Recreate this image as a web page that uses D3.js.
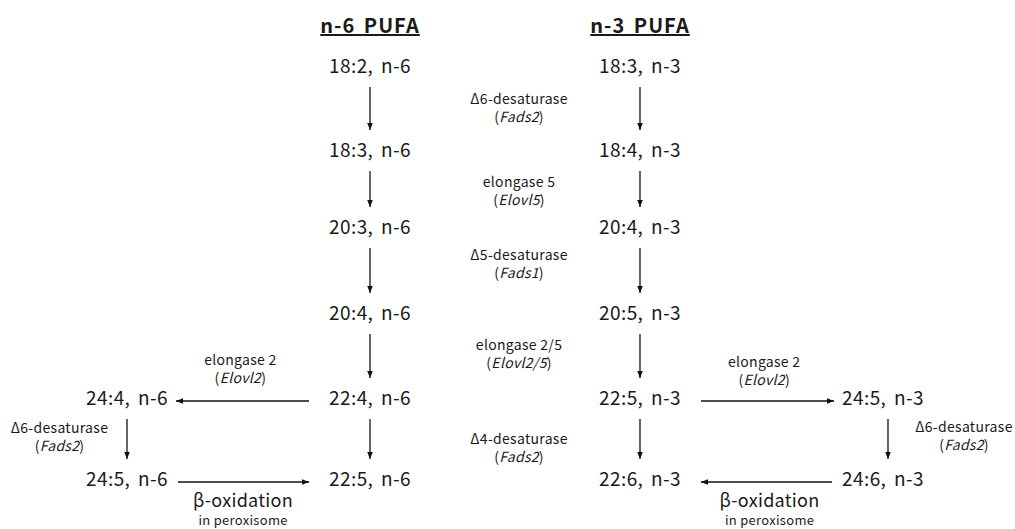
<!DOCTYPE html>
<html>
<head>
<meta charset="utf-8">
<script src="https://cdn.jsdelivr.net/npm/d3@7"></script>
<style>
  body { margin: 0; background: #fff; }
  svg text { font-family: "Noto Sans CJK KR", "Noto Sans", sans-serif; fill: #1a1a1a; }
</style>
</head>
<body>
<svg id="chart" width="1015" height="529"></svg>
<script>
// lanes: 0 = n-6 column, 1 = n-3 column, others relative to them
var titles = [["n-6 PUFA", 0], ["n-3 PUFA", 1]];
var n6Nodes = ["18:2, n-6", "18:3, n-6", "20:3, n-6", "20:4, n-6", "22:4, n-6", "22:5, n-6"];
var n3Nodes = ["18:3, n-3", "18:4, n-3", "20:4, n-3", "20:5, n-3", "22:5, n-3", "22:6, n-3"];
var enzymeNames = ["Δ6-desaturase", "elongase 5", "Δ5-desaturase", "elongase 2/5", "Δ4-desaturase"];
var enzymeGenes = ["Fads2", "Elovl5", "Fads1", "Elovl2/5", "Fads2"];
var enzymeRows = [0.45, 1.48, 2.38, 3.43, 4.57];
var sideNodes = [["24:4, n-6", -0.9, 4], ["24:5, n-6", -0.9, 5], ["24:5, n-3", 1.9, 4], ["24:6, n-3", 1.9, 5]];
// side arrows: from [lane,row] to [lane,row]
var sideArrows = [[[0, 4], [-0.9, 4]], [[-0.9, 4], [-0.9, 5]], [[-0.9, 5], [0, 5]],
                  [[1, 4], [1.9, 4]], [[1.9, 4], [1.9, 5]], [[1.9, 5], [1, 5]]];
// side labels: [name, gene, lane, row]
var sideLabels = [["elongase 2", "Elovl2", -0.48, 3.61], ["Δ6-desaturase", "Fads2", -1.15, 4.43],
                  ["elongase 2", "Elovl2", 1.46, 3.64], ["Δ6-desaturase", "Fads2", 2.2, 4.42]];
var betaLabels = [-0.47, 1.48];

var svg = d3.select("#chart");
var x = d3.scaleLinear().domain([0, 1]).range([370, 640]);
var y = d3.scaleLinear().domain([0, 1, 2, 3, 4, 5]).range([66, 150, 227, 313, 398, 479]);
var enzymeLane = 0.552;

svg.append("defs").append("marker")
  .attr("id", "head").attr("viewBox", "0 0 10 10")
  .attr("refX", 10).attr("refY", 5)
  .attr("markerWidth", 7).attr("markerHeight", 7)
  .attr("markerUnits", "userSpaceOnUse")
  .attr("orient", "auto")
  .append("path").attr("d", "M0,1 L10,5 L0,9 z").attr("fill", "#111");

// titles
svg.selectAll("text.title").data(titles).enter().append("text")
  .attr("class", "title")
  .attr("x", function (d) { return x(d[1]); })
  .attr("y", 33)
  .attr("text-anchor", "middle")
  .style("font-size", "20px").style("font-weight", "bold")
  .style("letter-spacing", "1px").style("word-spacing", "3px")
  .style("text-decoration", "underline")
  .text(function (d) { return d[0]; });

function nodeCol(names, lane) {
  svg.append("g").selectAll("text").data(names).enter().append("text")
    .attr("x", x(lane))
    .attr("y", function (d, i) { return y(i) + 7; })
    .attr("text-anchor", "middle")
    .style("font-size", "19px").style("letter-spacing", "0.4px").style("word-spacing", "3px")
    .text(function (d) { return d; });
  svg.append("g").selectAll("line").data(names.slice(1)).enter().append("line")
    .attr("x1", x(lane)).attr("x2", x(lane))
    .attr("y1", function (d, i) { return y(i) + 21; })
    .attr("y2", function (d, i) { return y(i + 1) - 20; })
    .attr("stroke", "#111").attr("stroke-width", 1.3)
    .attr("marker-end", "url(#head)");
}
nodeCol(n6Nodes, 0);
nodeCol(n3Nodes, 1);

function enzymeLabel(g, name, gene, lx, ly) {
  g.append("text").attr("x", lx).attr("y", ly).attr("text-anchor", "middle")
    .style("font-size", "14px").style("letter-spacing", "0.3px").text(name);
  var t2 = g.append("text").attr("x", lx).attr("y", ly + 18).attr("text-anchor", "middle")
    .style("font-size", "14px").style("letter-spacing", "0.3px");
  t2.append("tspan").text("(");
  t2.append("tspan").style("font-style", "italic").text(gene);
  t2.append("tspan").text(")");
}

var eg = svg.append("g");
enzymeNames.forEach(function (n, i) {
  enzymeLabel(eg, n, enzymeGenes[i], x(enzymeLane), y(enzymeRows[i]));
});

// side nodes
svg.append("g").selectAll("text").data(sideNodes).enter().append("text")
  .attr("x", function (d) { return x(d[1]); })
  .attr("y", function (d) { return y(d[2]) + 7; })
  .attr("text-anchor", "middle")
  .style("font-size", "19px").style("letter-spacing", "0.4px").style("word-spacing", "3px")
  .text(function (d) { return d[0]; });

// side arrows
svg.append("g").selectAll("line").data(sideArrows).enter().append("line")
  .each(function (d) {
    var x1 = x(d[0][0]), y1 = y(d[0][1]), x2 = x(d[1][0]), y2 = y(d[1][1]);
    var sel = d3.select(this);
    if (y1 === y2) {
      var dir = x2 > x1 ? 1 : -1;
      var main1 = d[0][0] === 0 || d[0][0] === 1;
      sel.attr("x1", x1 + dir * (main1 ? 61 : 51)).attr("x2", x2 - dir * (main1 ? 49 : 61))
        .attr("y1", y1 + 3).attr("y2", y2 + 3);
    } else {
      var shift = d[0][0] > 1 ? 5 : 0;
      sel.attr("x1", x1 + shift).attr("x2", x2 + shift)
        .attr("y1", y1 + 21).attr("y2", y2 - 20);
    }
  })
  .attr("stroke", "#111").attr("stroke-width", 1.3)
  .attr("marker-end", "url(#head)");

var sg = svg.append("g");
sideLabels.forEach(function (d) {
  enzymeLabel(sg, d[0], d[1], x(d[2]), y(d[3]));
});

svg.append("g").selectAll("text").data(betaLabels).enter().append("text")
  .attr("x", function (d) { return x(d); })
  .attr("y", 507)
  .attr("text-anchor", "middle")
  .style("font-size", "18px").style("letter-spacing", "0.3px")
  .text("β-oxidation");
svg.append("g").selectAll("text").data(betaLabels).enter().append("text")
  .attr("x", function (d) { return x(d); })
  .attr("y", 525)
  .attr("text-anchor", "middle")
  .style("font-size", "13px").style("letter-spacing", "0.3px")
  .text("in peroxisome");
</script>
</body>
</html>
